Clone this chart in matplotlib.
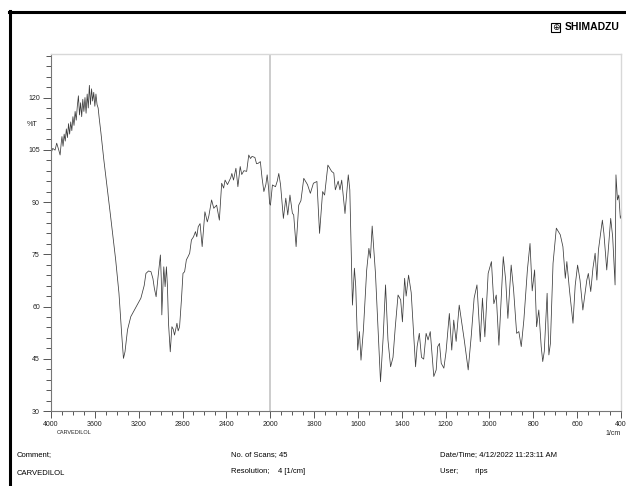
import numpy as np
import matplotlib.pyplot as plt
from matplotlib.ticker import FixedLocator, MultipleLocator
from matplotlib.lines import Line2D
from matplotlib.patches import Rectangle

plt.rcParams['font.family'] = ['Liberation Sans', 'DejaVu Sans']

# wavenumber (1/cm) and %T
wavenumber = [4000, 3984, 3963, 3948, 3930, 3917, 3905, 3900, 3890, 3880, 3870, 3860, 3850, 3840,
              3830, 3820, 3810, 3800, 3790, 3780, 3770, 3760, 3750, 3740, 3730, 3720, 3710, 3700,
              3690, 3680, 3670, 3660, 3650, 3640, 3630, 3620, 3610, 3600, 3590, 3580, 3570, 3560,
              3545, 3518, 3456, 3410, 3380, 3355, 3339, 3325, 3302, 3272, 3230, 3180, 3150, 3134,
              3110, 3088, 3070, 3057, 3041, 3025, 3002, 2994, 2989, 2980, 2971, 2959, 2947, 2938,
              2928, 2912, 2897, 2885, 2873, 2851, 2840, 2827, 2810, 2796, 2781, 2765, 2750, 2735,
              2719, 2700, 2682, 2670, 2657, 2640, 2621, 2596, 2574, 2560, 2535, 2515, 2489, 2464,
              2443, 2425, 2412, 2390, 2360, 2350, 2335, 2313, 2295, 2274, 2260, 2240, 2215, 2196,
              2180, 2166, 2140, 2125, 2111, 2090, 2075, 2058, 2040, 2028, 2015, 2006, 1999, 1990,
              1976, 1968, 1961, 1953, 1940, 1929, 1920, 1910, 1899, 1893, 1882, 1870, 1860, 1847,
              1830, 1817, 1803, 1787, 1775, 1761, 1752, 1737, 1720, 1710, 1703, 1690, 1682, 1674,
              1659, 1644, 1637, 1625, 1616, 1610, 1601, 1593, 1586, 1575, 1560, 1550, 1543, 1535,
              1520, 1507, 1497, 1485, 1474, 1463, 1451, 1440, 1430, 1417, 1405, 1397, 1387, 1380,
              1369, 1357, 1345, 1337, 1330, 1320, 1310, 1300, 1289, 1280, 1270, 1254, 1243, 1236,
              1228, 1220, 1208, 1198, 1183, 1172, 1163, 1152, 1138, 1128, 1115, 1097, 1083, 1070,
              1057, 1042, 1032, 1021, 1006, 991, 980, 969, 957, 937, 926, 916, 901, 890,
              876, 866, 855, 843, 827, 815, 805, 794, 785, 775, 764, 757, 750, 737,
              729, 722, 710, 695, 677, 665, 654, 647, 635, 619, 609, 598, 587, 574,
              556, 549, 538, 528, 518, 510, 503, 485, 478, 465, 447, 438, 427, 423,
              416, 410, 403, 400]
transmittance = [104.0, 105.4, 104.9, 106.9, 105.0, 103.5, 107.5, 108.8, 106.0, 109.5, 107.5, 111.0, 108.5, 112.5,
                 109.5, 113.0, 110.5, 114.5, 112.0, 116.0, 113.5, 117.5, 120.5, 115.0, 118.5, 114.5, 119.5, 116.0,
                 120.0, 115.5, 121.0, 117.0, 123.5, 118.0, 122.5, 119.0, 121.5, 117.5, 121.0, 118.0, 117.0, 114.0,
                 110.0, 102.1, 85.8, 73.4, 63.8, 52.0, 45.1, 47.0, 53.3, 57.1, 59.5, 62.4, 66.0, 69.5,
                 70.2, 70.0, 68.0, 65.2, 62.8, 68.0, 74.8, 68.0, 57.6, 65.0, 71.4, 65.7, 71.4, 66.0,
                 55.2, 47.0, 54.2, 53.5, 51.8, 55.2, 53.0, 54.2, 62.0, 69.5, 70.0, 73.4, 74.3, 75.3,
                 79.1, 80.0, 81.5, 80.0, 82.9, 83.8, 77.2, 87.2, 84.3, 86.0, 90.6, 88.2, 89.1, 84.8,
                 95.4, 94.0, 96.3, 95.0, 97.0, 98.2, 96.3, 99.7, 94.4, 100.2, 97.9, 99.0, 98.8, 103.5,
                 102.5, 103.1, 102.8, 101.0, 101.1, 101.6, 97.0, 93.0, 95.0, 97.8, 94.0, 89.6, 89.1, 94.9,
                 94.4, 96.0, 98.2, 95.0, 85.3, 91.1, 86.3, 92.0, 86.8, 86.3, 77.2, 89.1, 90.4, 96.8,
                 95.0, 92.5, 95.4, 95.9, 81.0, 93.0, 92.0, 100.6, 98.8, 98.3, 93.5, 96.0, 93.5, 96.3,
                 86.7, 97.8, 93.5, 60.4, 71.0, 65.8, 47.5, 52.8, 44.6, 53.3, 70.5, 76.7, 73.9, 83.1,
                 69.5, 52.3, 38.4, 51.0, 66.2, 50.4, 42.7, 45.4, 53.8, 63.3, 61.9, 55.6, 68.1, 63.0,
                 69.0, 64.0, 50.9, 42.7, 48.5, 52.3, 45.4, 44.9, 52.3, 50.4, 52.8, 39.9, 41.8, 48.5,
                 49.4, 43.7, 42.3, 47.0, 58.0, 47.5, 56.1, 50.0, 60.4, 56.0, 50.4, 41.8, 51.6, 62.4,
                 66.2, 49.9, 62.4, 51.3, 69.5, 72.9, 60.8, 63.3, 48.9, 74.3, 67.6, 56.6, 71.9, 64.8,
                 52.3, 52.8, 48.5, 56.2, 70.5, 78.1, 64.5, 70.5, 54.2, 59.0, 48.5, 44.2, 47.1, 63.8,
                 46.1, 49.4, 72.4, 82.5, 80.6, 77.2, 68.1, 72.9, 64.7, 55.2, 66.0, 71.9, 67.6, 59.0,
                 67.6, 69.5, 64.3, 71.0, 75.3, 67.6, 76.2, 84.8, 81.0, 70.5, 85.3, 80.0, 66.2, 97.8,
                 90.6, 92.0, 85.3, 86.0]

x_major = [4000, 3600, 3200, 2800, 2400, 2000, 1800, 1600, 1400, 1200, 1000, 800, 600, 400]
y_major = [30, 45, 60, 75, 90, 105, 120]


# shimadzu plots: above 2000 1/cm the axis is compressed by half
def fwd(x):
    x = np.asarray(x, dtype=float)
    return np.where(x > 2000, 2000 + (x - 2000) / 2, x)


def inv(u):
    u = np.asarray(u, dtype=float)
    return np.where(u > 2000, 2000 + (u - 2000) * 2, u)


W, H = 626, 486
fig = plt.figure(figsize=(W / 100, H / 100), dpi=100)
ax = fig.add_axes([51 / W, 1 - 411 / H, 570 / W, 357 / H])

ax.set_xscale('function', functions=(fwd, inv))
ax.plot(wavenumber, transmittance, color='#3c3c3c', lw=0.55)
ax.axvline(2000, color='#c8c8c8', lw=1.3, zorder=0)
ax.set_xlim(4000, 400)
ax.set_ylim(30, 132.5)

ax.xaxis.set_major_locator(FixedLocator(x_major))
ax.xaxis.set_minor_locator(FixedLocator(list(range(3900, 2000, -100)) + list(range(1950, 400, -50))))
ax.set_xticklabels([str(v) for v in x_major])
ax.yaxis.set_major_locator(FixedLocator(y_major))
ax.yaxis.set_minor_locator(MultipleLocator(3))

ax.tick_params(axis='both', which='both', colors='#555555', labelcolor='#222222', labelsize=5, width=0.7)
ax.tick_params(axis='x', which='major', length=5, pad=2)
ax.tick_params(axis='x', which='minor', length=3)
ax.tick_params(axis='y', which='major', length=6, pad=2)
ax.tick_params(axis='y', which='minor', length=3.6)

for s in ['left', 'bottom']:
    ax.spines[s].set_color('#777777')
    ax.spines[s].set_linewidth(0.8)
for s in ['top', 'right']:
    ax.spines[s].set_color('#d8d8d8')
    ax.spines[s].set_linewidth(1.0)


def px(x, y):
    return x / W, 1 - y / H


fig.text(*px(27, 124), '%T', fontsize=5.2, va='center', ha='left', color='#222222')
fig.text(*px(621, 433), '1/cm', fontsize=5, va='center', ha='right', color='#222222')
fig.text(*px(57, 432), 'CARVEDILOL', fontsize=4, va='center', ha='left', color='#222222')

fig.text(*px(17, 455), 'Comment;', fontsize=5.5, va='center', ha='left')
fig.text(*px(17, 473), 'CARVEDILOL', fontsize=5.5, va='center', ha='left')
fig.text(*px(231, 455), 'No. of Scans; 45', fontsize=5.5, va='center', ha='left')
fig.text(*px(231, 471), 'Resolution;    4 [1/cm]', fontsize=5.5, va='center', ha='left')
fig.text(*px(440, 455), 'Date/Time; 4/12/2022 11:23:11 AM', fontsize=5.5, va='center', ha='left')
fig.text(*px(440, 471), 'User;        rips', fontsize=5.5, va='center', ha='left')

# logo
fig.text(*px(620, 27), 'SHIMADZU', fontsize=7.5, fontweight='bold', va='center', ha='right')
fig.patches.append(Rectangle(px(551, 32), 9 / W, 9 / H, transform=fig.transFigure,
                             fill=False, ec='black', lw=0.8))
fig.text(*px(555.5, 27), '\u2295', fontsize=6.5, va='center', ha='center', family=['DejaVu Sans'])

# page frame
fig.add_artist(Line2D([9 / W, 1], [1 - 12 / H, 1 - 12 / H], color='black', lw=2.2,
                      transform=fig.transFigure))
fig.add_artist(Line2D([10 / W, 10 / W], [0, 1 - 11 / H], color='black', lw=2.2,
                      transform=fig.transFigure))

fig.savefig('out.png', dpi=100)
